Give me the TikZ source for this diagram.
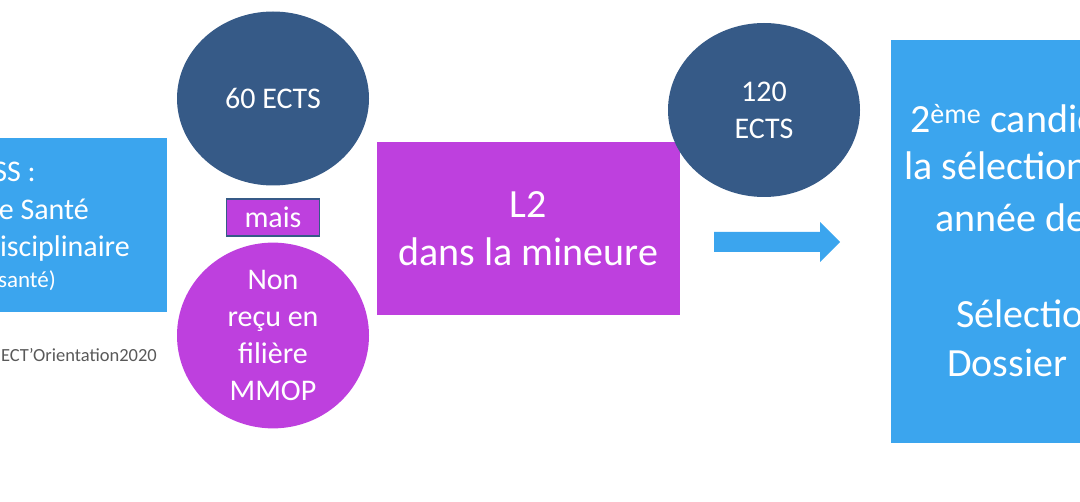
\documentclass[tikz,border=0pt]{standalone}
\usepackage{fontspec}
\setmainfont{Carlito}
\usepackage{xcolor}
\usetikzlibrary{shapes,positioning}
\definecolor{bleuclair}{HTML}{3BA5EE}
\definecolor{bleufonce}{HTML}{365A87}
\definecolor{mauve}{HTML}{BE40DE}
\definecolor{grisnote}{HTML}{595959}
\tikzset{
bluebox/.style = {fill=bleuclair, rectangle, inner sep=0pt},
purplebox/.style = {fill=mauve, rectangle, text=white, minimum width=303pt, minimum height=173pt, align=center, font=\fontsize{40}{48}\selectfont},
ects/.style = {fill=bleufonce, ellipse, text=white, minimum width=192pt, minimum height=174pt, inner sep=0pt, align=center, font=\fontsize{30}{37}\selectfont},
bubble/.style = {fill=mauve, ellipse, text=white, minimum width=192pt, minimum height=174pt, inner sep=0pt, align=center, font=\fontsize{30}{37.3}\selectfont},
maisbox/.style = {draw=bleufonce, line width=1.5pt, fill=mauve, rectangle, text=white, minimum width=93pt, minimum height=37pt, inner sep=0pt, font=\fontsize{30}{36}\selectfont},
cut/.style = {text=white, inner sep=0pt, font=\fontsize{30}{36}\selectfont},
big/.style = {text=white, inner sep=0pt, font=\fontsize{40}{48}\selectfont},
note/.style = {text=grisnote, inner sep=0pt, font=\fontsize{18.5}{22}\selectfont}
}
\begin{document}
\begin{tikzpicture}[auto, node distance=119pt, x=1pt, y=-1pt]
        \useasboundingbox (0,0) rectangle (1080,502);
        \clip (0,0) rectangle (1080,502);
        \node [bluebox, minimum width=334pt, minimum height=174pt] (pass) at (0,225) {};
        \node [cut, anchor=base east] (pass1) at (36,182) {SS :};
        \node [cut, anchor=base east] (pass2) at (89,220) {e Santé};
        \node [cut, anchor=base east] (pass3) at (130,257) {isciplinaire};
        \node [cut, anchor=base east, font=\fontsize{23}{28}\selectfont] (pass4) at (56,288) {santé)};
        \node [note, anchor=base east] (projet) at (157,362) {ECT’Orientation2020};
        \node [ects] (ects60) at (273,98.5) {60 ECTS};
        \node [maisbox, below of=ects60] (mais) {mais};
        \node [bubble, below of=mais, node distance=118pt] (nonrecu) {Non\\reçu en\\filière\\MMOP};
        \node [purplebox] (l2) at (528.5,228.5) {L2\\dans la mineure};
        \node [ects] (ects120) at (764,110) {120\\ECTS};
        \coordinate (fleche) at (714,242);
        \fill [bleuclair] (fleche) ++(0,-10) -- ++(106,0) -- ++(0,-10) -- ++(20,20) -- ++(-20,20) -- ++(0,-10) -- ++(-106,0) -- cycle;
        \node [bluebox, minimum width=378pt, minimum height=403pt] (selection) at (1080,241.5) {};
        \node [big, anchor=base west] (sel1) at (910,133) {2\textsuperscript{ème} candid};
        \node [big, anchor=base west] (sel2) at (904,180) {la sélection};
        \node [big, anchor=base west] (sel3) at (935,232) {année de};
        \node [big, anchor=base west] (sel4) at (956,328) {Sélectio};
        \node [big, anchor=base west] (sel5) at (947,377) {Dossier};
\end{tikzpicture}
\end{document}
